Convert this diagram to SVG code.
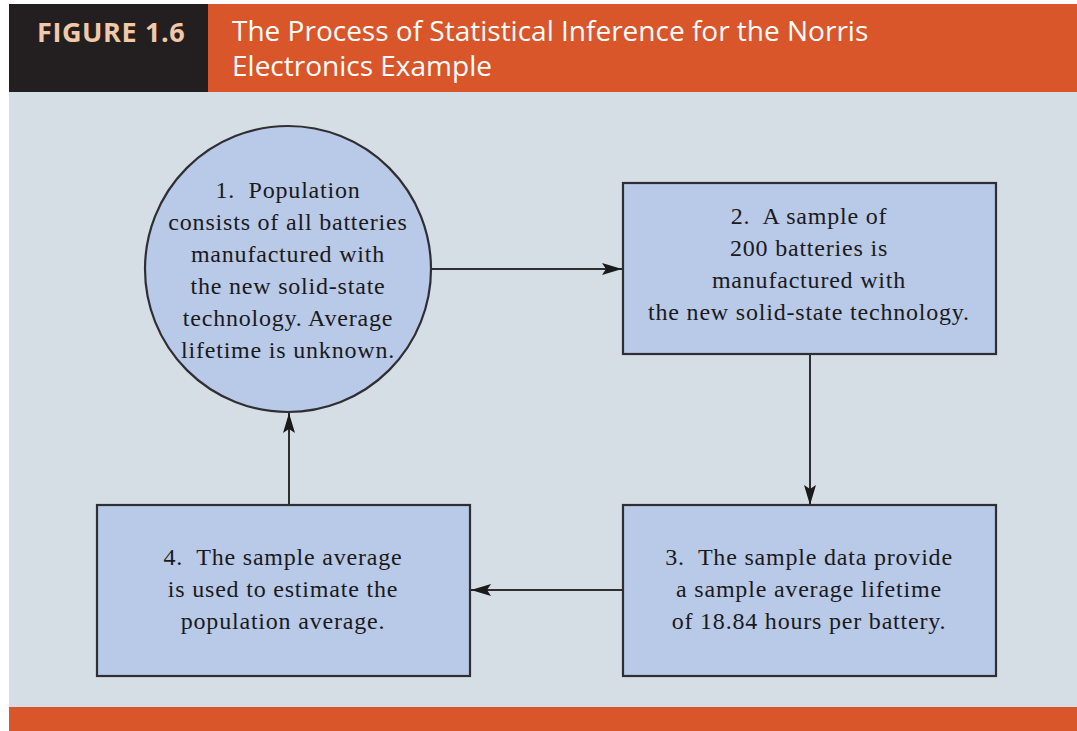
<svg xmlns="http://www.w3.org/2000/svg" width="1077" height="731" viewBox="0 0 1077 731">
<style>
.node{fill:#b9c9e8;stroke:#2e2e33;stroke-width:2.2}
.lbl{font-family:"Liberation Serif","Times New Roman",serif;font-size:24px;letter-spacing:0.8px;fill:#1a1a1a;text-anchor:middle}
.conn{stroke:#2e2e33;stroke-width:2;fill:none}
.hdr{font-family:"Open Sans","Liberation Sans",sans-serif}
</style>
<defs>
<marker id="ah" viewBox="0 0 20 12" refX="20" refY="6" markerWidth="20" markerHeight="12" markerUnits="userSpaceOnUse" orient="auto">
<path d="M0,0 L20,6 L0,12 L4,6 Z" fill="#1a1a1a"/>
</marker>
</defs>
<rect x="0" y="0" width="1077" height="731" fill="#ffffff"/>
<rect x="9" y="92" width="1068" height="615" fill="#d5dee5"/>
<rect x="9" y="707" width="1068" height="24" fill="#d9552a"/>
<g id="header">
<rect x="9" y="4" width="199" height="88" fill="#231f20"/>
<rect x="208" y="4" width="869" height="88" fill="#d9552a"/>
<text class="hdr" x="37" y="42" font-size="27" font-weight="bold" letter-spacing="0.6" fill="#f2c9a8">FIGURE 1.6</text>
<text class="hdr" x="232" y="41" font-size="28" fill="#ffffff">The Process of Statistical Inference for the Norris</text>
<text class="hdr" x="232" y="76" font-size="28" fill="#ffffff">Electronics Example</text>
</g>
<g id="connectors">
<line class="conn" x1="432" y1="269" x2="622" y2="269" marker-end="url(#ah)"/>
<line class="conn" x1="810" y1="354" x2="810" y2="505" marker-end="url(#ah)"/>
<line class="conn" x1="623" y1="590" x2="471" y2="590" marker-end="url(#ah)"/>
<line class="conn" x1="289" y1="505" x2="289" y2="413" marker-end="url(#ah)"/>
</g>
<g id="node1">
<circle class="node" cx="288" cy="269" r="143"/>
<text class="lbl" x="288" y="198">1.&#160; Population</text>
<text class="lbl" x="288" y="230">consists of all batteries</text>
<text class="lbl" x="288" y="262">manufactured with</text>
<text class="lbl" x="288" y="294">the new solid-state</text>
<text class="lbl" x="288" y="326">technology. Average</text>
<text class="lbl" x="288" y="358">lifetime is unknown.</text>
</g>
<g id="node2">
<rect class="node" x="623" y="183" width="373" height="171"/>
<text class="lbl" x="809" y="224">2.&#160; A sample of</text>
<text class="lbl" x="809" y="256">200 batteries is</text>
<text class="lbl" x="809" y="288">manufactured with</text>
<text class="lbl" x="809" y="320">the new solid-state technology.</text>
</g>
<g id="node3">
<rect class="node" x="623" y="505" width="373" height="171"/>
<text class="lbl" x="809" y="565">3.&#160; The sample data provide</text>
<text class="lbl" x="809" y="597">a sample average lifetime</text>
<text class="lbl" x="809" y="629">of 18.84 hours per battery.</text>
</g>
<g id="node4">
<rect class="node" x="97" y="505" width="373" height="171"/>
<text class="lbl" x="283" y="565">4.&#160; The sample average</text>
<text class="lbl" x="283" y="597">is used to estimate the</text>
<text class="lbl" x="283" y="629">population average.</text>
</g>
</svg>
